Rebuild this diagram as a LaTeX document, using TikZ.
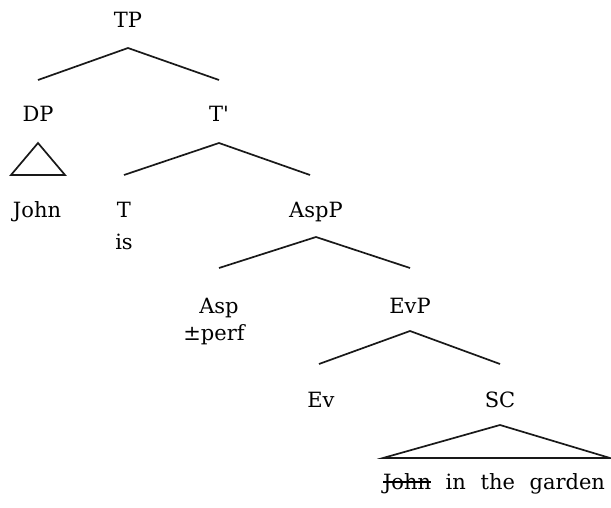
\documentclass[tikz,border=0pt]{standalone}
\usepackage{fontspec}
\setmainfont{DejaVu Serif}
\newcommand\strikeword[1]{\setbox0=\hbox{#1}\rlap{\rule[0.3em]{\wd0}{0.06em}}\box0\relax}
\begin{document}
\begin{tikzpicture}[x=1pt,y=-1pt,
  lbl/.style={anchor=base, inner sep=0pt, font=\fontsize{21}{24}\selectfont, text=black},
  br/.style={line width=1.7pt, draw=black!90, line join=miter}]
\useasboundingbox[fill=white] (0,0) rectangle (611,508);
% labels
\node[lbl] (TP) at (128,28) {TP};
\node[lbl] (DP) at (38,122) {DP};
\node[lbl] (Tbar) at (219,122) {T\textquotesingle};
\node[lbl] (John) at (37,218) {John};
\node[lbl] (T) at (124,218) {T};
\node[lbl] (is) at (124,250) {is};
\node[lbl] (AspP) at (316,218) {AspP};
\node[lbl] (Asp) at (219,313) {Asp};
\node[lbl] (perf) at (214,340) {±perf};
\node[lbl] (EvP) at (410,313) {EvP};
\node[lbl] (Ev) at (321,407) {Ev};
\node[lbl] (SC) at (500,407) {SC};
\node[lbl] (sent) at (494,489) {\makebox[222pt][s]{\strikeword{John} in the garden}};
% branch points
\coordinate (tpA) at (128,48); \coordinate (tpL) at (38,80); \coordinate (tpR) at (219,80);
\coordinate (dpA) at (38,143); \coordinate (dpL) at (11,175); \coordinate (dpR) at (65,175);
\coordinate (tbA) at (219,143); \coordinate (tbL) at (124,175); \coordinate (tbR) at (310,175);
\coordinate (apA) at (316,237); \coordinate (apL) at (219,268); \coordinate (apR) at (410,268);
\coordinate (evA) at (410,331); \coordinate (evL) at (319,364); \coordinate (evR) at (500,364);
\coordinate (scA) at (500,425); \coordinate (scL) at (383,458); \coordinate (scR) at (610,458);
\draw[br] (tpL) -- (tpA) -- (tpR);
\draw[br] (dpA) -- (dpL) -- (dpR) -- cycle;
\draw[br] (tbL) -- (tbA) -- (tbR);
\draw[br] (apL) -- (apA) -- (apR);
\draw[br] (evL) -- (evA) -- (evR);
\draw[br] (scA) -- (scL) -- (scR) -- cycle;
\end{tikzpicture}
\end{document}
